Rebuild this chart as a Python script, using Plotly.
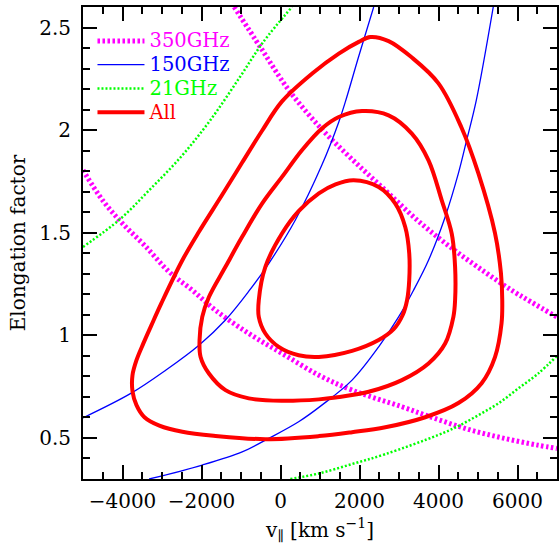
import plotly.graph_objects as go

# ---------------- data ----------------
# 350GHz constraint: two branches
m350_a_x = [-1173, -492, 214, 1047, 1812, 2654, 3494, 4335, 5177, 5890, 6351, 7000]
m350_a_y = [2.600, 2.399, 2.194, 2.004, 1.858, 1.707, 1.556, 1.425, 1.308, 1.215, 1.162, 1.089]
m350_b_x = [-5000, -4504, -4000, -3444, -2813, -2233, -1645, -802, 38, 971, 1812, 3073, 3986, 4826, 5669, 6509, 7000]
m350_b_y = [1.805, 1.658, 1.545, 1.439, 1.308, 1.220, 1.122, 1.009, 0.912, 0.806, 0.733, 0.652, 0.590, 0.538, 0.498, 0.465, 0.449]

# 150GHz constraint: two branches
b150_a_x = [-5000, -3790, -2907, -2064, -1393, -802, -298, 373, 1047, 1476, 1645, 1981, 2359]
b150_a_y = [0.598, 0.717, 0.830, 0.952, 1.075, 1.215, 1.350, 1.561, 1.830, 2.040, 2.140, 2.360, 2.600]
b150_b_x = [-3325, -1981, -971, -298, 459, 1047, 1812, 2485, 2990, 3368, 3747, 4168, 4503, 4713, 4958, 5386]
b150_b_y = [0.300, 0.368, 0.432, 0.498, 0.579, 0.660, 0.782, 0.944, 1.090, 1.220, 1.366, 1.577, 1.789, 1.951, 2.146, 2.600]

# 21GHz constraint: two branches
g21_a_x = [-5000, -4075, -3325, -2523, -1779, -1047, -442, 290]
g21_a_y = [1.431, 1.564, 1.707, 1.869, 2.048, 2.253, 2.428, 2.600]
g21_b_x = [250, 971, 1812, 2654, 3986, 4503, 5008, 5513, 6018, 6523, 7000]
g21_b_y = [0.300, 0.327, 0.373, 0.421, 0.514, 0.558, 0.611, 0.668, 0.741, 0.814, 0.900]

# Combined ("All") contours: outer, middle, inner
all_outer_x = [2276, 2737, 3318, 3999, 4579, 5008, 5430, 5581, 5614, 5596, 5430, 5092, 4504, 3663, 2654,
               1812, 971, -383, -1645, -2485, -3066, -3444, -3646, -3747, -3747, -3646, -3469, -3267,
               -3015, -2485, -2064, -1476, -971, -467, 38, 802, 1476, 1981, 2276]
all_outer_y = [2.454, 2.434, 2.355, 2.228, 2.014, 1.790, 1.498, 1.303, 1.171, 1.059, 0.894, 0.767, 0.670,
               0.601, 0.552, 0.528, 0.509, 0.494, 0.510, 0.530, 0.560, 0.601, 0.660, 0.728, 0.806,
               0.879, 0.962, 1.050, 1.157, 1.366, 1.505, 1.685, 1.842, 1.997, 2.140, 2.276, 2.373,
               2.430, 2.454]
all_mid_x = [2064, 2737, 3325, 3747, 4082, 4335, 4420, 4420, 4377, 4168, 3747, 3073, 2233, 1393, 971, 38,
             -802, -1393, -1812, -2023, -2049, -1981, -1812, -1393, -971, -467, 38, 542, 1047, 1476, 2064]
all_mid_y = [2.093, 2.072, 1.983, 1.853, 1.658, 1.496, 1.334, 1.171, 1.090, 0.960, 0.863, 0.782, 0.725,
             0.697, 0.688, 0.681, 0.693, 0.733, 0.814, 0.895, 0.977, 1.090, 1.187, 1.334, 1.480, 1.642,
             1.772, 1.902, 2.008, 2.064, 2.093]
all_in_x = [1854, 2485, 2906, 3158, 3259, 3259, 3204, 3091, 2864, 2485, 1812, 971, 459, -45, -383, -550,
            -550, -383, 38, 459, 971, 1393, 1854]
all_in_y = [1.756, 1.723, 1.642, 1.528, 1.399, 1.269, 1.171, 1.098, 1.030, 0.977, 0.924, 0.895, 0.903,
            0.944, 1.009, 1.090, 1.171, 1.334, 1.496, 1.605, 1.692, 1.736, 1.756]

x_range = [-5000, 7000]
y_range = [0.3, 2.6]
x_tickvals = [-4000, -2000, 0, 2000, 4000, 6000]
x_ticktext = ["\u22124000", "\u22122000", "0", "2000", "4000", "6000"]
y_tickvals = [0.5, 1.0, 1.5, 2.0, 2.5]
y_ticktext = ["0.5", "1", "1.5", "2", "2.5"]
series_names = ["350GHz", "150GHz", "21GHz", "All"]
series_colors = ["#ff00ff", "#0000ff", "#00ff00", "#ff0000"]


def join(*parts):
    xs, ys = [], []
    for i, (px, py) in enumerate(parts):
        if i:
            xs.append(None)
            ys.append(None)
        xs += px
        ys += py
    return xs, ys


def label(i):
    return "<span style='color:%s;font-size:19.5px'>%s</span>" % (series_colors[i], series_names[i])


FONT = "DejaVu Serif"
fig = go.Figure()

x, y = join((m350_a_x, m350_a_y), (m350_b_x, m350_b_y))
fig.add_trace(go.Scatter(x=x, y=y, mode="lines", connectgaps=False, name=label(0),
                         line=dict(color=series_colors[0], width=5, dash="2.5px,2.5px", shape="spline", smoothing=1.0)))

x, y = join((b150_a_x, b150_a_y), (b150_b_x, b150_b_y))
fig.add_trace(go.Scatter(x=x, y=y, mode="lines", connectgaps=False, name=label(1),
                         line=dict(color=series_colors[1], width=1.3, shape="spline", smoothing=1.0)))

x, y = join((g21_a_x, g21_a_y), (g21_b_x, g21_b_y))
fig.add_trace(go.Scatter(x=x, y=y, mode="lines", connectgaps=False, name=label(2),
                         line=dict(color=series_colors[2], width=2.5, dash="2px,2px", shape="spline", smoothing=1.0)))

x, y = join((all_outer_x, all_outer_y), (all_mid_x, all_mid_y), (all_in_x, all_in_y))
fig.add_trace(go.Scatter(x=x, y=y, mode="lines", connectgaps=False, name=label(3),
                         line=dict(color=series_colors[3], width=4, shape="spline", smoothing=1.0)))

axis_common = dict(
    showgrid=False, zeroline=False, showline=True, linecolor="black", linewidth=2,
    mirror="allticks", ticks="inside", tickcolor="black", tickwidth=1.5, ticklen=14,
    tickfont=dict(family=FONT, size=20, color="black"),
)

fig.update_xaxes(range=x_range, tickmode="array", tickvals=x_tickvals, ticktext=x_ticktext,
                 minor=dict(dtick=500, tick0=0, ticks="inside", ticklen=7, tickwidth=1.5, tickcolor="black"),
                 ticklabelstandoff=3,
                 title=dict(text="v<sub>\u2225</sub> [km s<sup>\u22121</sup>]",
                            font=dict(family=FONT, size=20, color="black"), standoff=12),
                 **axis_common)
fig.update_yaxes(range=y_range, tickmode="array", tickvals=y_tickvals, ticktext=y_ticktext,
                 minor=dict(dtick=0.1, tick0=0, ticks="inside", ticklen=7, tickwidth=1.5, tickcolor="black"),
                 ticklabelstandoff=6,
                 title=dict(text="Elongation factor",
                            font=dict(family=FONT, size=20, color="black"), standoff=8),
                 **axis_common)

fig.update_layout(
    width=559, height=544, autosize=False,
    margin=dict(l=83, r=0, t=7, b=65),
    paper_bgcolor="white", plot_bgcolor="white",
    showlegend=True,
    legend=dict(x=0.02, y=0.964, xanchor="left", yanchor="top", bgcolor="rgba(0,0,0,0)",
                font=dict(family=FONT, size=16), itemwidth=47, tracegroupgap=0),
)

fig.write_html("out.html", config={"displayModeBar": False},
               post_script="document.body.style.margin='0px';")
